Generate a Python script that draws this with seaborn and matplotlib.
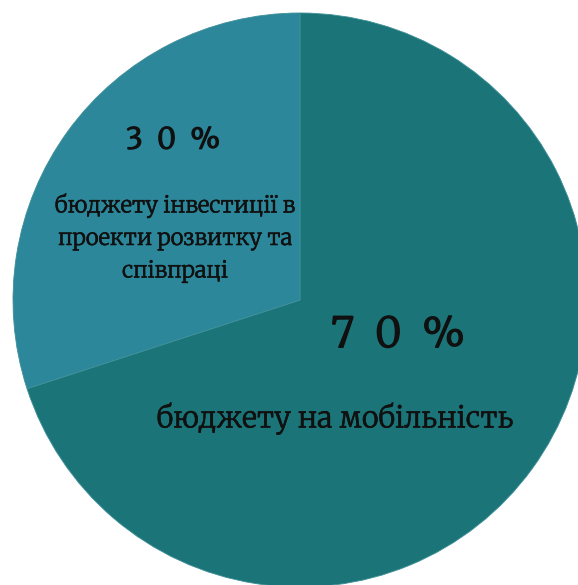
import matplotlib
matplotlib.use("Agg")
import matplotlib.pyplot as plt
import matplotlib.patheffects as pe
import seaborn as sns

# Data
categories = ["бюджету на мобільність", "бюджету інвестиції в\nпроекти розвитку та\nспівпраці"]
values = [70, 30]
pct_labels = ["7\u20020\u2002%", "3\u20020\u2002%"]
colors = ["#1b7578", "#2c879b"]

sns.set_theme(style="white")
plt.rcParams['font.family'] = ['Merriweather', 'DejaVu Serif', 'DejaVu Sans']

W, H = 578, 585
fig = plt.figure(figsize=(W / 100, H / 100), dpi=100)
ax = fig.add_axes([0, 0, 1, 1])

cx, cy, R = 300, 300, 287  # pixel geometry of the pie
wedges, _ = ax.pie(values, colors=colors, startangle=90, counterclock=False,
                   wedgeprops=dict(edgecolor="#3f8f98", linewidth=0.6))
ax.set_aspect('auto')
ax.set_xlim(-cx / R, (W - cx) / R)
ax.set_ylim(-(H - cy) / R, cy / R)
ax.axis('off')

def fx(px):
    return px / W

def fy(py):
    return 1 - py / H

txt = "#101010"
heavy = [pe.withStroke(linewidth=1.0, foreground=txt)]
light = [pe.withStroke(linewidth=0.4, foreground=txt)]
# 70 % slice
ax.text(fx(398), fy(335), pct_labels[0], transform=ax.transAxes, ha='center', va='center',
        fontsize=30, color=txt, path_effects=heavy)
ax.text(fx(335), fy(418), categories[0], transform=ax.transAxes, ha='center', va='center',
        fontsize=20.8, color=txt, path_effects=light)
# 30 % slice
ax.text(fx(173), fy(140), pct_labels[1], transform=ax.transAxes, ha='center', va='center',
        fontsize=21, color=txt, path_effects=heavy)
ax.text(fx(175), fy(238), categories[1], transform=ax.transAxes, ha='center', va='center',
        fontsize=16, color=txt, linespacing=1.42, path_effects=light)

fig.savefig("out.png", dpi=100)
